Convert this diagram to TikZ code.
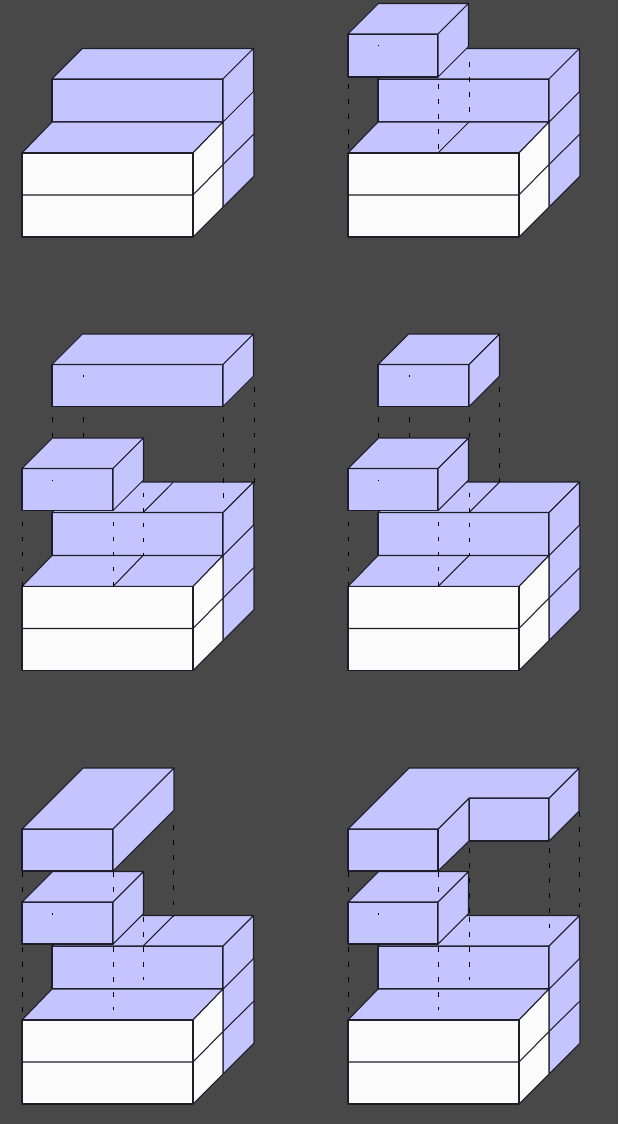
\documentclass[tikz,border=0pt]{standalone}
\usepackage{tikz}
\definecolor{slabdark}{RGB}{72,72,72}
\definecolor{slabblue}{RGB}{196,196,255}
\definecolor{slabwhite}{RGB}{251,251,251}
\definecolor{slabink}{RGB}{30,30,42}
% front-top-left x, y, width, height, depth of a box in px
\newcommand{\slabbox}[5]{%
  \filldraw[edge,fill=slabblue] (#1,#2) rectangle ++(#3,#4);
  \filldraw[edge,fill=slabblue] (#1,#2) -- ++(#5,-#5) -- ++(#3,0) -- ++(-#5,#5) -- cycle;
  \filldraw[edge,fill=slabblue] (#1+#3,#2) -- ++(#5,-#5) -- ++(0,#4) -- ++(-#5,#5) -- cycle;
}
% two white layers in front, three blue layers behind
\newcommand{\slabbase}{%
  \fill[slabblue] (223,122) -- (254,91.5) -- (254,176) -- (223,207) -- cycle;
  \draw[edge] (254,91.5) -- (254,176) -- (223,207) -- (223,122);
  \draw[edge] (223,164.5) -- (254,134);
  \slabbox{52}{79}{171}{43}{30.5}
  \filldraw[edge,fill=slabblue] (22,153) -- (52,122) -- (223,122) -- (193,153) -- cycle;
  \filldraw[edge,fill=slabwhite] (193,153) -- (223,122) -- (223,207) -- (193,237) -- cycle;
  \filldraw[edge,fill=slabwhite] (22,153) rectangle (193,237);
  \draw[edge] (22,195) -- (193,195) -- (223,164.5);
}
\begin{document}
\begin{tikzpicture}[x=0.02cm,y=-0.02cm,
  edge/.style={draw=slabink,line width=0.6pt,line join=round},
  hid/.style={draw=black,line width=0.5pt,dash pattern=on 2.6pt off 6pt}]
\fill[slabdark] (0,0) rectangle (618,1124);
\useasboundingbox (0,0) rectangle (618,1124);
% top row
\slabbase
\begin{scope}[shift={(326,0)}]
  \slabbase
  \draw[edge] (112,153) -- (143,122);
  \slabbox{22}{34}{90}{43}{30.5}
  \foreach \x/\a/\b in {22/84/153,112/84/153,143/62/122} \draw[hid] (\x,\a)--(\x,\b);
  \draw[hid] (52,45)--(52,46.5);
\end{scope}
% middle row
\begin{scope}[shift={(0,433.5)}]
  \slabbase
  \draw[edge] (143,79) -- (173,49) (113,153) -- (143,122);
  \slabbox{22}{35}{91}{42}{30.5}
  \slabbox{52}{-69}{171}{42}{30.5}
  \foreach \x/\a/\b in {52/-16/3,83/-16/3,223/-16/64,254/-46/49,22/88/153,113/88/153,143/59/122} \draw[hid] (\x,\a)--(\x,\b);
  \draw[hid] (83,-58)--(83,-56.5);
  \draw[hid] (52,46)--(52,47.5);
\end{scope}
\begin{scope}[shift={(326,433.5)}]
  \slabbase
  \draw[edge] (143,79) -- (173,49) (112,153) -- (143,122);
  \slabbox{22}{35}{90}{42}{30.5}
  \slabbox{52}{-69}{91}{42}{30.5}
  \foreach \x/\a/\b in {52/-16/3,83/-16/3,143/-16/3,173/-46/49,22/88/153,112/88/153,143/59/122} \draw[hid] (\x,\a)--(\x,\b);
  \draw[hid] (83,-58)--(83,-56.5);
  \draw[hid] (52,46)--(52,47.5);
\end{scope}
% bottom row
\begin{scope}[shift={(0,867)}]
  \slabbase
  \draw[edge] (143,79) -- (173,49);
  \slabbox{22}{35}{91}{42}{30.5}
  \slabbox{22}{-38}{91}{42}{61}
  \foreach \x/\a/\b in {22/5/34,113/5/34,173/-42/49,22/80/153,113/80/143,143/50/113} \draw[hid] (\x,\a)--(\x,\b);
  \draw[hid] (52,46)--(52,47.5);
\end{scope}
\begin{scope}[shift={(326,867)}]
  \slabbase
  \slabbox{22}{35}{90}{42}{30.5}
  % the bent piece on top
  \filldraw[edge,fill=slabblue] (143,-69) rectangle (223,-26);
  \filldraw[edge,fill=slabblue] (223,-69) -- (253,-99) -- (253,-56) -- (223,-26) -- cycle;
  \filldraw[edge,fill=slabblue] (112,-38) -- (143,-69) -- (143,-26) -- (112,4) -- cycle;
  \filldraw[edge,fill=slabblue] (22,-38) rectangle (112,4);
  \filldraw[edge,fill=slabblue] (22,-38) -- (83,-99) -- (253,-99) -- (223,-69) -- (143,-69) -- (112,-38) -- cycle;
  \foreach \x/\a/\b in {22/5/34,112/5/34,143/-19/49,223/-19/65,253/-55/41,22/80/153,112/80/143,143/50/113} \draw[hid] (\x,\a)--(\x,\b);
  \draw[hid] (52,46)--(52,47.5);
\end{scope}
\end{tikzpicture}
\end{document}
